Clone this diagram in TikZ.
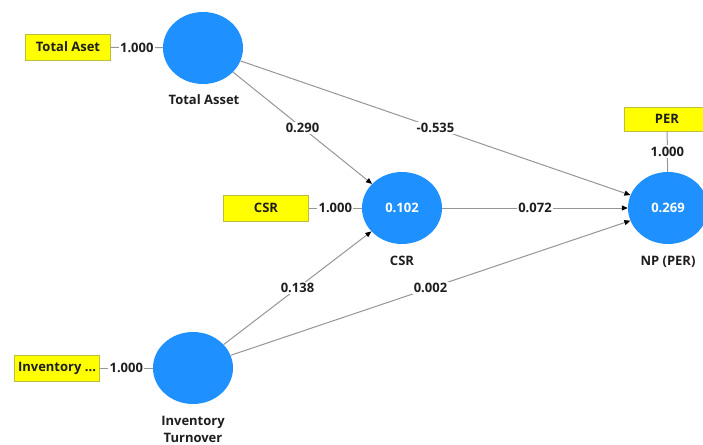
\documentclass[tikz,border=0pt]{standalone}
\usepackage{fontspec}
\setmainfont{Open Sans}
\usetikzlibrary{shapes.geometric,arrows.meta}
\definecolor{circblue}{RGB}{30,144,255}
\definecolor{boxyellow}{RGB}{255,255,0}
\definecolor{boxedge}{RGB}{190,190,60}
\definecolor{linegray}{RGB}{150,150,150}
\definecolor{txt}{RGB}{30,30,30}
\tikzset{
  latent/.style={ellipse, fill=circblue, draw=none, minimum width=80pt, minimum height=72pt, inner sep=0pt, text=white, font=\fontsize{13}{15}\selectfont\bfseries},
  indic/.style={rectangle, fill=boxyellow, draw=boxedge, line width=0.5pt, minimum width=85pt, minimum height=26pt, inner sep=0pt, text=txt, font=\fontsize{13}{15}\selectfont\bfseries},
  caption/.style={text=txt, font=\fontsize{13}{17}\selectfont\bfseries, align=center, inner sep=0pt},
  path/.style={draw=linegray, line width=1pt, -{Triangle[length=6pt,width=5pt,color=black]}},
  load/.style={draw=linegray, line width=1pt},
  coef/.style={fill=white, text=txt, font=\fontsize{13}{15}\selectfont\bfseries, inner sep=1.5pt}
}
\begin{document}
\begin{tikzpicture}[x=1pt,y=-1pt]
\useasboundingbox[fill=white] (0,0) rectangle (703,444);
% latent variables
\node[latent] (ta) at (203,48) {};
\node[latent] (csr) at (402,208) {0.102};
\node[latent] (np) at (668,208) {0.269};
\node[latent] (inv) at (193,368) {};
% captions
\node[caption] (tacap) at (204,100) {Total Asset};
\node[caption] (csrcap) at (402,261) {CSR};
\node[caption] (npcap) at (668,262) {NP (PER)};
\node[caption] (invcap) at (193,429) {Inventory\\Turnover};
% indicators
\node[indic] (tabox) at (68,47) {Total Aset};
\node[indic] (csrbox) at (266,208) {CSR};
\node[indic] (invbox) at (57,368) {Inventory ...};
\node[indic, minimum height=24pt] (perbox) at (667,119) {PER};
% loadings
\draw[load] (tabox) -- node[coef] {1.000} (ta);
\draw[load] (csrbox) -- node[coef] {1.000} (csr);
\draw[load] (invbox) -- node[coef] {1.000} (inv);
\draw[load] (perbox) -- node[coef] {1.000} (np);
% paths
\draw[path] (ta) -- node[coef] {0.290} (csr);
\draw[path] (ta) -- node[coef] {-0.535} (np);
\draw[path] (csr) -- node[coef] {0.072} (np);
\draw[path] (inv) -- node[coef] {0.138} (csr);
\draw[path] (inv) -- node[coef] {0.002} (np);
\end{tikzpicture}
\end{document}
